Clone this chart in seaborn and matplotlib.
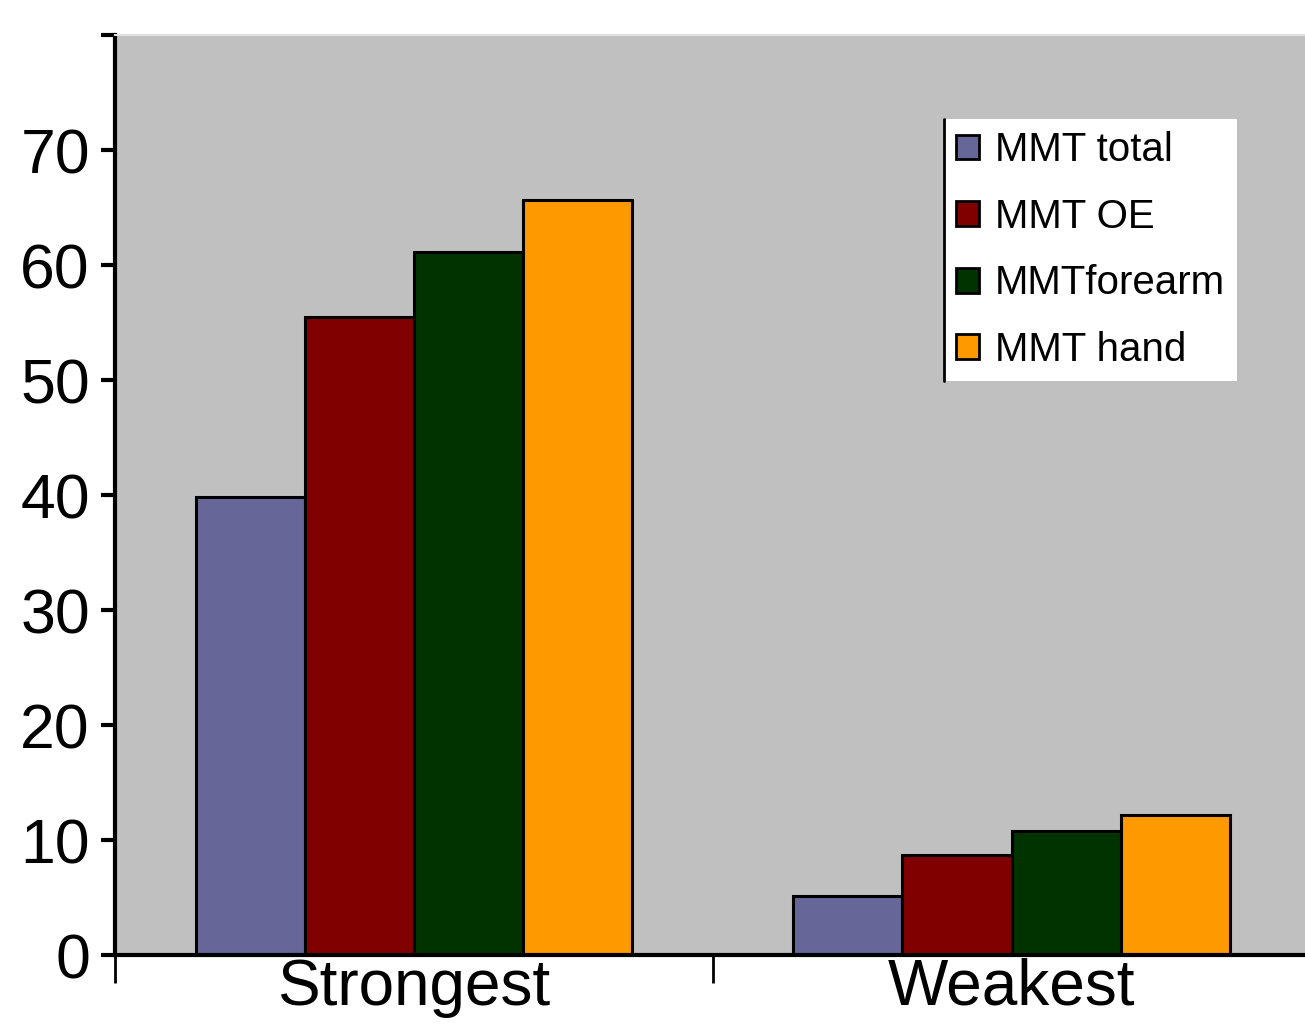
import matplotlib
matplotlib.use("Agg")
import matplotlib.pyplot as plt
from matplotlib.lines import Line2D
import seaborn as sns
import pandas as pd

groups = ["Strongest", "Weakest"]
series = ["MMT total", "MMT OE", "MMTforearm", "MMT hand"]
mmt_total = [39.8, 5.1]
mmt_oe = [55.5, 8.7]
mmt_forearm = [61.1, 10.8]
mmt_hand = [65.7, 12.2]
colors = ["#666699", "#800000", "#003300", "#FF9900"]
yticks = [0, 10, 20, 30, 40, 50, 60, 70, 80]
ytick_labels = ["0", "10", "20", "30", "40", "50", "60", "70", ""]

rows = []
for name, vals in zip(series, [mmt_total, mmt_oe, mmt_forearm, mmt_hand]):
    for g, v in zip(groups, vals):
        rows.append({"group": g, "series": name, "value": v})
df = pd.DataFrame(rows)

sns.set_style("white")
plt.rcParams["font.family"] = ["Liberation Sans", "DejaVu Sans"]
plt.rcParams["text.color"] = "black"
plt.rcParams["xtick.color"] = "black"
plt.rcParams["ytick.color"] = "black"
plt.rcParams["xtick.labelcolor"] = "black"
plt.rcParams["ytick.labelcolor"] = "black"

fig = plt.figure(figsize=(13.05, 10.33), dpi=100)
ax = fig.add_axes([0.0881, 0.0755, 0.916, 0.8905])
ax.set_facecolor("#C0C0C0")

sns.barplot(data=df, x="group", y="value", hue="series", order=groups,
            hue_order=series, palette=colors, width=0.73, saturation=1,
            edgecolor="black", linewidth=2.2, errorbar=None, ax=ax, zorder=2)

ax.set_xlim(-0.5, 1.5)
ax.set_ylim(0, 80)
ax.set_yticks(yticks)
ax.set_yticklabels(ytick_labels)
ax.set_xlabel("")
ax.set_ylabel("")

ax.tick_params(axis="y", which="major", direction="out", length=10, width=3,
               color="black", labelcolor="black", labelsize=45, pad=8, left=True)
ax.tick_params(axis="x", which="major", length=0, labelsize=46, pad=2,
               labelcolor="black")
ax.set_xticks([-0.5, 0.5, 1.5], minor=True)
ax.tick_params(axis="x", which="minor", direction="out", length=20, width=2,
               color="black", bottom=True)

for side in ["left", "bottom"]:
    ax.spines[side].set_color("black")
    ax.spines[side].set_linewidth(3)
ax.spines["right"].set_visible(False)
ax.spines["top"].set_color("#E0E0E0")
ax.spines["top"].set_linewidth(1.5)

leg = ax.legend(loc="upper left", bbox_to_anchor=(0.6935, 0.9087), fontsize=29,
                frameon=True, fancybox=False, framealpha=1, facecolor="white",
                edgecolor="none", handlelength=0.57, handleheight=0.57,
                handletextpad=0.4, labelspacing=0.71, borderpad=0.3,
                borderaxespad=0)
for t in leg.get_texts():
    t.set_color("black")
for h in leg.legend_handles:
    h.set_edgecolor("black")
    h.set_linewidth(2)

fig.canvas.draw()
bb = leg.get_window_extent().transformed(fig.transFigure.inverted())
fig.add_artist(Line2D([bb.x0, bb.x0], [bb.y0, bb.y1], color="black",
                      linewidth=2, transform=fig.transFigure))

fig.savefig("out.png", dpi=100)
